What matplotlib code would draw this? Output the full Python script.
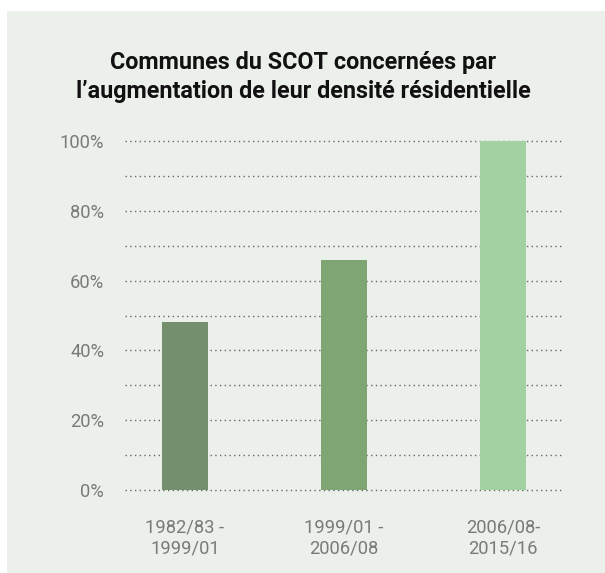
import matplotlib
matplotlib.use("Agg")
import matplotlib.pyplot as plt
from matplotlib.patches import Rectangle

categories = ["1982/83 -\n1999/01", "1999/01 -\n2006/08", "2006/08-\n2015/16"]
values = [48, 66, 100]
colors = ["#748F6E", "#7FA575", "#A3D1A1"]
yticks = [0, 20, 40, 60, 80, 100]
title = "Communes du SCOT concernées par\nl\u2019augmentation de leur densité résidentielle"

W, H = 605, 573
fig = plt.figure(figsize=(W / 100, H / 100), dpi=100)
fig.patch.set_facecolor("white")
fig.patches.append(Rectangle((7 / W, -0.01), 1.02 - 7 / W, 1.01 - 11 / H, transform=fig.transFigure,
                             facecolor="#ECF0EB", edgecolor="none", zorder=-5))

ylo, yhi = -1, 101
px_per = 349 / 100
bottom_px = 490 + (0 - ylo) * px_per
top_px = 141 - (yhi - 100) * px_per
ax = fig.add_axes([125 / W, (H - bottom_px) / H, (563 - 125) / W, (bottom_px - top_px) / H])
ax.set_facecolor("none")
ax.set_zorder(2)

x = list(range(len(categories)))
ax.bar(x, values, width=0.29, color=colors, zorder=3)
ax.set_xlim(-0.377, 2.377)
ax.set_ylim(ylo, yhi)

for v in range(0, 101, 10):
    ax.axhline(v, color="#666666", linestyle=(0, (1, 2.4)), linewidth=1.0, zorder=1)

ax.set_yticks(yticks)
ax.set_yticklabels([f"{t}%" for t in yticks])
ax.set_xticks(x)
ax.set_xticklabels(categories, linespacing=1.2)
ax.tick_params(axis="y", length=0, pad=15, labelsize=13.2, labelcolor="#7a7a7a")
ax.tick_params(axis="x", length=0, pad=18, labelsize=13.2, labelcolor="#7a7a7a")
for lab in ax.get_xticklabels() + ax.get_yticklabels():
    lab.set_fontfamily("Roboto")
    lab.set_fontweight("normal")
for s in ax.spines.values():
    s.set_visible(False)

fig.text(0.5 + 1 / W, 1 - 77 / H, title, ha="center", va="center", fontsize=16.8,
         fontweight="bold", family="Roboto", color="#111111", linespacing=1.35, zorder=3)

fig.savefig("out.png", dpi=100, facecolor=fig.get_facecolor())
